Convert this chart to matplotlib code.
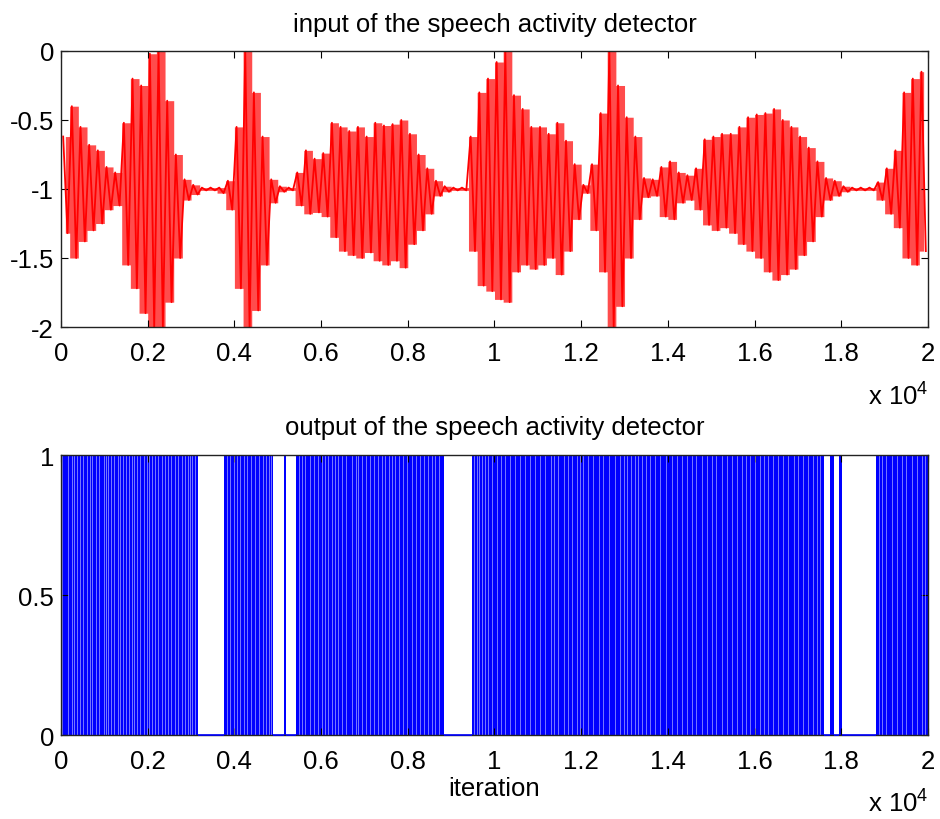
import numpy as np
import matplotlib
matplotlib.use('Agg')
import matplotlib.pyplot as plt
from matplotlib.ticker import FuncFormatter

plt.rcParams['font.family'] = ['Liberation Sans', 'DejaVu Sans']
plt.rcParams['mathtext.fontset'] = 'custom'
plt.rcParams['mathtext.rm'] = 'Liberation Sans'

N = 20000
BIN = 200  # samples per envelope bin

# peak / trough of the input waveform in each 200-sample bin
wave_hi = [-0.62, -0.40, -0.55, -0.68, -0.72, -0.84, -0.88, -0.52, -0.20, -0.25,
           -0.02, 0.00, -0.36, -0.75, -0.93, -0.97, -0.99, -0.99, -0.99, -0.94,
           -0.55, 0.00, -0.30, -0.62, -0.93, -0.98, -0.99, -0.88, -0.72, -0.78,
           -0.74, -0.52, -0.55, -0.58, -0.55, -0.62, -0.52, -0.54, -0.53, -0.50,
           -0.60, -0.75, -0.85, -0.94, -0.98, -0.99, -0.99, -0.62, -0.30, -0.20,
           -0.08, 0.00, -0.32, -0.42, -0.55, -0.55, -0.60, -0.52, -0.65, -0.82,
           -0.97, -0.82, -0.45, 0.00, -0.25, -0.48, -0.62, -0.92, -0.93, -0.84,
           -0.80, -0.88, -0.90, -0.85, -0.64, -0.62, -0.60, -0.60, -0.55, -0.48,
           -0.46, -0.45, -0.42, -0.50, -0.55, -0.62, -0.70, -0.80, -0.92, -0.94,
           -0.98, -0.99, -0.99, -0.99, -0.95, -0.85, -0.72, -0.30, -0.20, -0.15]
wave_lo = [-1.32, -1.50, -1.38, -1.30, -1.25, -1.15, -1.12, -1.55, -1.72, -1.90,
           -2.00, -2.00, -1.82, -1.50, -1.08, -1.04, -1.01, -1.01, -1.03, -1.15,
           -1.72, -2.00, -1.88, -1.55, -1.10, -1.02, -1.01, -1.12, -1.18, -1.17,
           -1.20, -1.35, -1.45, -1.48, -1.50, -1.46, -1.52, -1.55, -1.52, -1.57,
           -1.40, -1.30, -1.18, -1.05, -1.02, -1.01, -1.01, -1.45, -1.70, -1.74,
           -1.80, -1.82, -1.60, -1.55, -1.58, -1.55, -1.50, -1.62, -1.45, -1.22,
           -1.03, -1.30, -1.60, -2.00, -1.85, -1.50, -1.22, -1.06, -1.05, -1.20,
           -1.22, -1.10, -1.08, -1.15, -1.26, -1.30, -1.28, -1.32, -1.40, -1.45,
           -1.50, -1.60, -1.66, -1.62, -1.58, -1.48, -1.38, -1.20, -1.08, -1.05,
           -1.02, -1.01, -1.01, -1.01, -1.08, -1.18, -1.28, -1.50, -1.55, -1.45]

# detector output: long silent stretches (samples)
gap_start = [3153, 4899, 5183, 8836, 17602, 17833, 18025]
gap_end = [3761, 5153, 5414, 9482, 17741, 17948, 18810]
# short flat runs between toggles inside the active parts
stripe_at = [31, 154, 247, 300, 362, 430, 508, 600, 660, 723, 800, 870, 985,
             1040, 1092, 1150, 1215, 1308, 1370, 1438, 1500, 1569, 1630, 1692,
             1760, 1823, 1923, 1980, 2031, 2100, 2169, 2240, 2323, 2390, 2461,
             2540, 2630, 2700, 2784, 2850, 2923, 2980, 3030, 3090,
             3830, 3899, 3980, 4053, 4140, 4210, 4284, 4380, 4476, 4560, 4669,
             4740, 4800, 4850,
             5480, 5553, 5640, 5745, 5830, 5937, 6020, 6090, 6150, 6260, 6330,
             6400, 6490, 6580, 6706, 6800, 6860, 6937, 7040, 7129, 7220, 7321,
             7400, 7475, 7560, 7640, 7706, 7800, 7898, 7990, 8090, 8180, 8282,
             8380, 8475, 8550, 8628, 8720,
             9530, 9590, 9650, 9705, 9780, 9859, 9950, 10051, 10150, 10243,
             10350, 10474, 10580, 10705, 10820, 10935, 11050, 11166, 11300,
             11380, 11474, 11600, 11700, 11781, 11900, 11980, 12050, 12160,
             12281, 12400, 12512, 12640, 12781, 12900, 12980, 13050, 13150,
             13242, 13320, 13396, 13500, 13588, 13700, 13819, 13950, 14088,
             14200, 14319, 14430, 14549, 14660, 14780, 14900, 15011, 15120,
             15241, 15360, 15472, 15590, 15703, 15800, 15895, 16010, 16126,
             16220, 16318, 16430, 16549, 16660, 16779, 16900, 17010, 17120,
             17241, 17340, 17433, 17520,
             18870, 18933, 19040, 19163, 19280, 19394, 19500, 19625, 19740,
             19855, 19940]

x_ticks = [0, 2000, 4000, 6000, 8000, 10000, 12000, 14000, 16000, 18000, 20000]

fig = plt.figure(figsize=(9.4, 8.2), dpi=100)
ax1 = fig.add_axes([0.0649, 0.600, 0.9223, 0.3366])
ax2 = fig.add_axes([0.0649, 0.1024, 0.9223, 0.3415])

# input waveform: stepped envelope plus a zigzag between bin peaks and troughs
starts = np.arange(len(wave_hi)) * BIN
centers = starts + BIN / 2
env = ax1.fill_between(centers, wave_lo, wave_hi, step='mid', color='#ff4c4c', lw=0)
env.set_snap(False)
xs = np.column_stack([starts + BIN * 0.25, starts + BIN * 0.75]).ravel()
ys = np.column_stack([wave_hi, wave_lo]).ravel()
ax1.plot(xs, ys, color='#ff0000', lw=1.3)
ax1.set_ylim(-2, 0)
ax1.set_yticks([0, -0.5, -1, -1.5, -2])
ax1.set_yticklabels(['0', '-0.5', '-1', '-1.5', '-2'])
ax1.set_title('input of the speech activity detector', fontsize=18.5, pad=14.5)

# active parts = everything outside the long silent stretches
edges = [0]
for s, e in zip(gap_start, gap_end):
    edges += [s, e]
edges.append(N)
blocks = [(edges[i], edges[i + 1] - edges[i]) for i in range(0, len(edges), 2)]
ax2.broken_barh(blocks, (0, 1), facecolors='#0000ff', edgecolors='none')
# thin flat runs show up as pale slits in the toggling
ax2.vlines(stripe_at, 0, 1, color='white', lw=0.6, alpha=0.55)
# output sits at zero through the silent stretches
ax2.hlines(np.zeros(len(gap_start)), gap_start, gap_end, color='#0000ff',
           lw=1.2, zorder=3, clip_on=False)
ax2.set_ylim(0, 1)
ax2.set_yticks([0, 0.5, 1])
ax2.set_yticklabels(['0', '0.5', '1'])
ax2.set_title('output of the speech activity detector', fontsize=18.5, pad=15)
ax2.set_xlabel('iteration', fontsize=18.5, labelpad=2)

for ax, off in ((ax1, -0.279), (ax2, -0.271)):
    ax.set_xlim(0, N)
    ax.set_xticks(x_ticks)
    ax.xaxis.set_major_formatter(FuncFormatter(lambda v, p: f'{v / 1e4:g}'))
    ax.tick_params(direction='in', top=True, right=True, length=5, width=0.8,
                   labelsize=18.5)
    ax.tick_params(axis='x', pad=10)
    ax.tick_params(axis='y', pad=5)
    for sp in ax.spines.values():
        sp.set_linewidth(1.0)
        sp.set_color('#222222')
    ax.text(1.0, off, r'x 10$^{4}$', transform=ax.transAxes, ha='right',
            va='baseline', fontsize=18.5)

fig.savefig('out.png', dpi=100)
